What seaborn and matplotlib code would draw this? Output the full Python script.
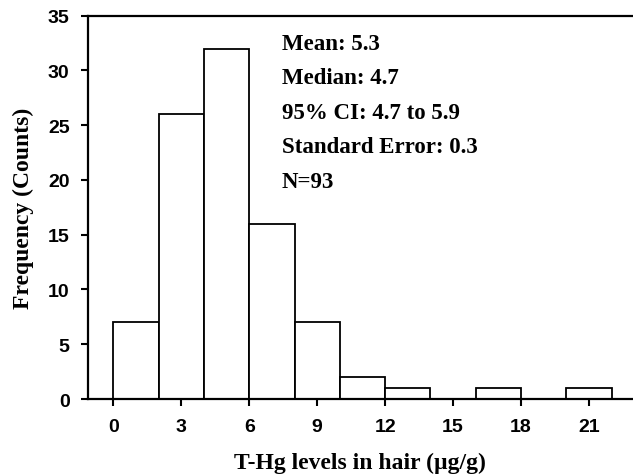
import matplotlib
matplotlib.use("Agg")
import matplotlib.pyplot as plt
import seaborn as sns

# histogram of T-Hg in hair, bins of 2 ug/g
bin_edges = [0, 2, 4, 6, 8, 10, 12, 14, 16, 18, 20, 22]
bin_mids = [1, 3, 5, 7, 9, 11, 13, 15, 17, 19, 21]
counts = [7, 26, 32, 16, 7, 2, 1, 0, 1, 0, 1]

x_ticks = [0, 3, 6, 9, 12, 15, 18, 21]
y_ticks = [0, 5, 10, 15, 20, 25, 30, 35]

stats_lines = ["Mean: 5.3", "Median: 4.7", "95% CI: 4.7 to 5.9",
               "Standard Error: 0.3", "N=93"]

sns.set_style("ticks")
plt.rcParams['font.family'] = ['Liberation Sans', 'DejaVu Sans']
plt.rcParams.update({"text.color": "black", "axes.labelcolor": "black",
                     "xtick.color": "black", "ytick.color": "black"})

fig = plt.figure(figsize=(6.33, 4.77), dpi=100)
ax = fig.add_axes([0.1385, 0.1614, 0.8600, 0.8036])

sns.histplot(x=bin_mids, weights=counts, bins=bin_edges, ax=ax,
             color="white", edgecolor="black", linewidth=1.3, alpha=1)

ax.set_xlim(-1.13, 22.9)
ax.set_ylim(0, 35)
ax.set_xticks(x_ticks)
ax.set_yticks(y_ticks)

for s in ["left", "top", "bottom"]:
    ax.spines[s].set_linewidth(1.6)
    ax.spines[s].set_color("black")
ax.spines["right"].set_visible(False)

ax.tick_params(axis="both", direction="out", length=5, width=1.5, colors="black",
               labelsize=14)
ax.tick_params(axis="y", pad=8)
ax.tick_params(axis="x", pad=9)
for lab in ax.get_xticklabels() + ax.get_yticklabels():
    lab.set_fontweight("bold")

serif = ['Liberation Serif', 'DejaVu Serif']
ax.set_xlabel("T-Hg levels in hair (\u00b5g/g)", fontsize=17, fontweight="bold",
              family=serif, labelpad=12)
ax.set_ylabel("Frequency (Counts)", fontsize=17, fontweight="bold",
              family=serif, labelpad=10)

y0 = 32.0
for i, line in enumerate(stats_lines):
    ax.text(7.43, y0 - 3.15 * i, line, fontsize=16.5, fontweight="bold",
            family=serif, va="baseline", ha="left")

fig.savefig("out.png", dpi=100)
